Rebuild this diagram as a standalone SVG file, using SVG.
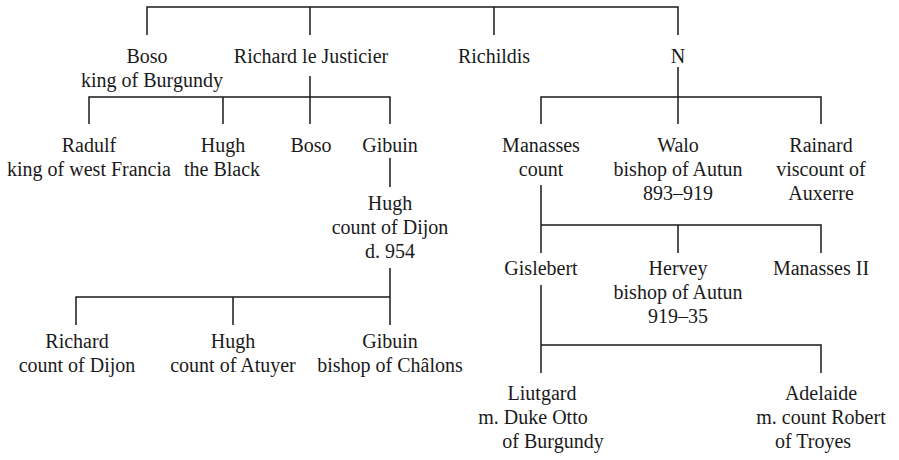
<svg xmlns="http://www.w3.org/2000/svg" width="899" height="460" viewBox="0 0 899 460">
<style>
text{font-family:"Liberation Serif","Times New Roman",serif;font-size:20px;fill:#1a1a1a;text-anchor:middle}
.c{fill:none;stroke:#1a1a1a;stroke-width:1.5}
</style>
<rect width="899" height="460" fill="#fff"/>
<g id="connectors" class="c">
<path d="M147 35V7H678V35M310 7V35M494 7V35"/>
<path d="M310 76V97M89 124V97H390V124M223 97V124M310 97V124"/>
<path d="M678 67V97M541 124V97H821V124M678 97V124"/>
<path d="M390 158V187"/>
<path d="M390 268V325M76 325V297H390M233 297V325"/>
<path d="M541 185V253M541 225H821V253M678 225V253"/>
<path d="M541 285V373M541 345H821V373"/>
</g>
<g id="boso"><text x="147" y="63">Boso</text><text x="152" y="87">king of Burgundy</text></g>
<g id="richard"><text x="311" y="63">Richard le Justicier</text></g>
<g id="richildis"><text x="494" y="63">Richildis</text></g>
<g id="n"><text x="678" y="63">N</text></g>
<g id="radulf"><text x="89" y="152">Radulf</text><text x="89" y="176">king of west Francia</text></g>
<g id="hugh-black"><text x="223" y="152">Hugh</text><text x="222" y="176">the Black</text></g>
<g id="boso2"><text x="311" y="152">Boso</text></g>
<g id="gibuin"><text x="390" y="152">Gibuin</text></g>
<g id="hugh-dijon"><text x="390" y="210">Hugh</text><text x="390" y="234">count of Dijon</text><text x="390" y="258">d. 954</text></g>
<g id="richard-dijon"><text x="77" y="348">Richard</text><text x="77" y="372">count of Dijon</text></g>
<g id="hugh-atuyer"><text x="233" y="348">Hugh</text><text x="233" y="372">count of Atuyer</text></g>
<g id="gibuin-chalons"><text x="390" y="348">Gibuin</text><text x="390" y="372">bishop of Châlons</text></g>
<g id="manasses"><text x="541" y="152">Manasses</text><text x="541" y="176">count</text></g>
<g id="walo"><text x="678" y="152">Walo</text><text x="678" y="176">bishop of Autun</text><text x="678" y="200">893–919</text></g>
<g id="rainard"><text x="821" y="152">Rainard</text><text x="821" y="176">viscount of</text><text x="821" y="200">Auxerre</text></g>
<g id="gislebert"><text x="541" y="275">Gislebert</text></g>
<g id="hervey"><text x="678" y="275">Hervey</text><text x="678" y="299">bishop of Autun</text><text x="678" y="323">919–35</text></g>
<g id="manasses2"><text x="821" y="275">Manasses II</text></g>
<g id="liutgard"><text x="542" y="400">Liutgard</text><text x="533" y="424">m. Duke Otto</text><text x="553" y="448">of Burgundy</text></g>
<g id="adelaide"><text x="821" y="400">Adelaide</text><text x="821" y="424">m. count Robert</text><text x="813" y="448">of Troyes</text></g>
</svg>
